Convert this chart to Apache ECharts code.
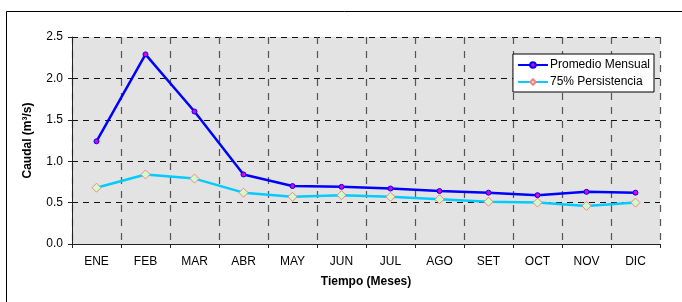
<!DOCTYPE html>
<html>
<head>
<meta charset="utf-8">
<script src="https://cdn.jsdelivr.net/npm/echarts@6/dist/echarts.min.js"></script>
<style>
  html, body { margin: 0; padding: 0; background: #fff; }
  #chart { width: 682px; height: 302px; }
</style>
</head>
<body>
<div id="chart"></div>
<script>
  // meses y caudales
  var meses = ['ENE', 'FEB', 'MAR', 'ABR', 'MAY', 'JUN', 'JUL', 'AGO', 'SET', 'OCT', 'NOV', 'DIC'];
  var promedioMensual = [1.24, 2.29, 1.60, 0.84, 0.70, 0.69, 0.67, 0.64, 0.62, 0.59, 0.63, 0.62];
  var persistencia75 = [0.68, 0.84, 0.79, 0.62, 0.57, 0.59, 0.57, 0.54, 0.51, 0.50, 0.46, 0.50];

  var fuente = '"Liberation Sans", Arial, sans-serif';
  var chart = echarts.init(document.getElementById('chart'));

  chart.setOption({
    animation: false,
    textStyle: { fontFamily: fuente },
    graphic: [{
      type: 'rect',
      shape: { x: 6.5, y: 11.5, width: 720, height: 340 },
      style: { fill: 'none', stroke: '#000', lineWidth: 1 },
      silent: true
    }],
    grid: {
      left: 72,
      top: 37,
      width: 588,
      height: 207,
      show: true,
      backgroundColor: '#e3e3e3',
      borderColor: '#888',
      borderWidth: 0
    },
    legend: {
      right: 28,
      top: 54,
      orient: 'vertical',
      backgroundColor: '#fff',
      borderColor: '#000',
      borderWidth: 1,
      padding: [5, 4, 4, 4],
      itemGap: 5,
      itemWidth: 30,
      itemHeight: 7,
      textStyle: { fontSize: 12, color: '#000', fontFamily: fuente, padding: [0, 0, 0, -3] },
      data: ['Promedio Mensual', '75% Persistencia']
    },
    xAxis: {
      type: 'category',
      data: meses,
      name: 'Tiempo (Meses)',
      nameLocation: 'middle',
      nameGap: 32,
      nameTextStyle: { fontWeight: 'bold', fontSize: 12, color: '#000' },
      axisLine: { lineStyle: { color: '#222', width: 1 } },
      axisTick: { show: true, length: 4, lineStyle: { color: '#222' } },
      axisLabel: { color: '#000', fontSize: 12, margin: 12 },
      splitLine: { show: true, lineStyle: { color: '#555', type: [7, 7], width: 1.2 } }
    },
    yAxis: {
      type: 'value',
      min: 0,
      max: 2.5,
      interval: 0.5,
      name: 'Caudal (m³/s)',
      nameLocation: 'middle',
      nameGap: 38,
      nameTextStyle: { fontWeight: 'bold', fontSize: 12, color: '#000' },
      axisLine: { show: true, lineStyle: { color: '#222', width: 1 } },
      axisTick: { show: true, length: 4, lineStyle: { color: '#222' } },
      axisLabel: {
        color: '#000',
        fontSize: 12,
        margin: 9,
        formatter: function (v) { return v.toFixed(1); }
      },
      splitLine: { show: true, lineStyle: { color: '#111', type: [6, 5], width: 1 } }
    },
    series: [
      {
        name: 'Promedio Mensual',
        type: 'line',
        data: promedioMensual,
        symbol: 'circle',
        symbolSize: 5,
        lineStyle: { color: '#0000ff', width: 2.5 },
        itemStyle: { color: '#dd00dd', borderColor: '#0000ff', borderWidth: 1 },
        z: 3
      },
      {
        name: '75% Persistencia',
        type: 'line',
        data: persistencia75,
        symbol: 'diamond',
        symbolSize: 9,
        lineStyle: { color: '#00ccff', width: 2.5 },
        itemStyle: { color: '#ccffcc', borderColor: '#ff8080', borderWidth: 1 },
        z: 2
      }
    ]
  });
</script>
</body>
</html>
